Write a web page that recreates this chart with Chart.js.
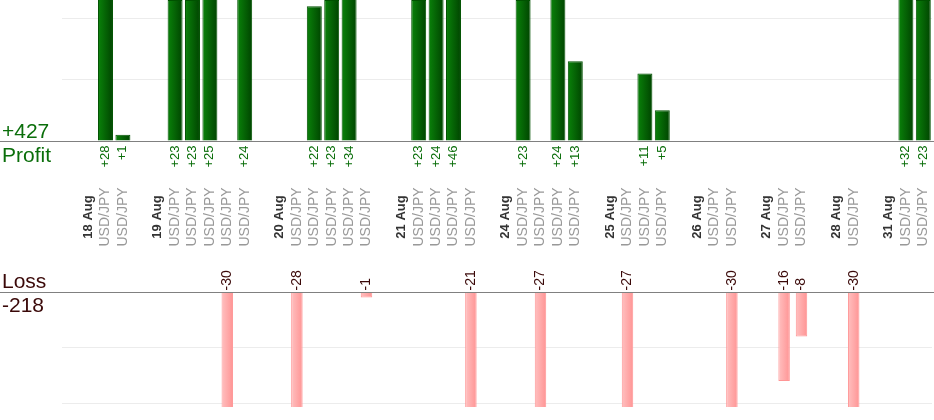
<!DOCTYPE html>
<html>
<head>
<meta charset="utf-8">
<script src="https://cdn.jsdelivr.net/npm/chart.js@4.4.1/dist/chart.umd.min.js"></script>
<style>
  html, body { margin: 0; padding: 0; background: #fff; }
  #wrap { position: relative; width: 934px; height: 420px; overflow: hidden; }
  #wrap canvas { position: absolute; left: 0; }
  #profitChart { top: 0; }
  #lossChart { top: 260px; }
</style>
</head>
<body>
<div id="wrap">
  <canvas id="profitChart" width="934" height="260"></canvas>
  <canvas id="lossChart" width="934" height="160"></canvas>
</div>
<script>
// Data (one slot per column, '' = spacer before each day)
const PAIR = 'USD/JPY';
const labels = [
  '', '18 Aug', PAIR, PAIR,
  '', '19 Aug', PAIR, PAIR, PAIR, PAIR, PAIR,
  '', '20 Aug', PAIR, PAIR, PAIR, PAIR, PAIR,
  '', '21 Aug', PAIR, PAIR, PAIR, PAIR,
  '', '24 Aug', PAIR, PAIR, PAIR, PAIR,
  '', '25 Aug', PAIR, PAIR, PAIR,
  '', '26 Aug', PAIR, PAIR,
  '', '27 Aug', PAIR, PAIR,
  '', '28 Aug', PAIR,
  '', '31 Aug', PAIR, PAIR,
];
const profit = [
  null, null, 28, 1,
  null, null, 23, 23, 25, null, 24,
  null, null, null, 22, 23, 34, null,
  null, null, 23, 24, 46, null,
  null, null, 23, null, 24, 13,
  null, null, null, 11, 5,
  null, null, null, null,
  null, null, null, null,
  null, null, null,
  null, null, 32, 23,
];
const loss = [
  null, null, null, null,
  null, null, null, null, null, -30, null,
  null, null, -28, null, null, null, -1,
  null, null, null, null, null, -21,
  null, null, null, -27, null, null,
  null, null, -27, null, null,
  null, null, null, -30,
  null, null, -16, -8,
  null, null, -30,
  null, null, null, null,
];
const profitGrid = [0, 10, 20];
const lossGrid = [-20, -10, 0];

const totalProfit = profit.reduce((s, v) => s + (v || 0), 0);
const totalLoss = loss.reduce((s, v) => s + (v || 0), 0);

const FONT = 'Arial, "Liberation Sans", sans-serif';
const GREEN = '#0a6e0a';
const MAROON = '#3a0808';
const PROFIT_BAR = 0.86;
const LOSS_BAR = 0.66;

// horizontal gradient per bar, positioned from the x scale
function barFill(from, to, pct) {
  return (c) => {
    if (c.type !== 'data') return to;
    const xs = c.chart.scales.x;
    if (!xs) return to;
    const cx = xs.getPixelForValue(c.dataIndex);
    const half = xs.width / labels.length * pct / 2;
    if (!isFinite(cx) || !isFinite(half) || half <= 0) return to;
    const g = c.chart.ctx.createLinearGradient(cx - half, 0, cx + half, 0);
    g.addColorStop(0, from);
    g.addColorStop(1, to);
    return g;
  };
}

function gridColor(c) {
  const v = c.tick ? c.tick.value : 0;
  return v !== 0 ? '#ececec' : 'rgba(0,0,0,0)';
}

function drawRotated(ctx, text, x, y, align) {
  ctx.save();
  ctx.translate(x, y);
  ctx.rotate(-Math.PI / 2);
  ctx.textAlign = align;
  ctx.fillText(text, 0, 0);
  ctx.restore();
}

function drawBaseline(chart) {
  const ctx = chart.ctx;
  const base = Math.round(chart.scales.y.getPixelForValue(0)) + 0.5;
  ctx.save();
  ctx.strokeStyle = '#808080';
  ctx.lineWidth = 1;
  ctx.beginPath();
  ctx.moveTo(0, base);
  ctx.lineTo(chart.width, base);
  ctx.stroke();
  ctx.restore();
  return base;
}

const profitLabels = {
  id: 'profitLabels',
  afterDraw(chart) {
    const { ctx, scales: { x } } = chart;
    const base = drawBaseline(chart);
    ctx.save();
    ctx.textBaseline = 'middle';

    ctx.fillStyle = GREEN;
    ctx.font = '13px ' + FONT;
    profit.forEach((v, i) => {
      if (v == null) return;
      drawRotated(ctx, '+' + v, x.getPixelForValue(i), base + 4, 'right');
    });

    labels.forEach((lab, i) => {
      if (!lab) return;
      if (lab === PAIR) {
        ctx.fillStyle = '#999';
        ctx.font = '14px ' + FONT;
      } else {
        ctx.fillStyle = '#333';
        ctx.font = 'bold 13px ' + FONT;
      }
      drawRotated(ctx, lab, x.getPixelForValue(i), 217, 'center');
    });

    ctx.textBaseline = 'alphabetic';
    ctx.textAlign = 'left';
    ctx.fillStyle = GREEN;
    ctx.font = '21px ' + FONT;
    ctx.fillText('+' + totalProfit, 2, 138);
    ctx.fillText('Profit', 2, 162);
    ctx.restore();
  },
};

const lossLabels = {
  id: 'lossLabels',
  afterDraw(chart) {
    const { ctx, scales: { x } } = chart;
    const base = drawBaseline(chart);
    ctx.save();
    ctx.textBaseline = 'middle';
    ctx.fillStyle = MAROON;
    ctx.font = '14px ' + FONT;
    loss.forEach((v, i) => {
      if (v == null) return;
      drawRotated(ctx, String(v), x.getPixelForValue(i), base - 2, 'left');
    });

    ctx.textBaseline = 'alphabetic';
    ctx.textAlign = 'left';
    ctx.font = '21px ' + FONT;
    ctx.fillText('Loss', 2, 28);
    ctx.fillText(String(totalLoss), 2, 52);
    ctx.restore();
  },
};

const common = {
  responsive: false,
  animation: false,
  events: [],
  plugins: { legend: { display: false }, tooltip: { enabled: false } },
};

const hiddenX = {
  ticks: { display: false },
  grid: { display: false, drawTicks: false },
  border: { display: false },
};

function yAxis(min, max, grid) {
  return {
    min,
    max,
    afterBuildTicks: (scale) => { scale.ticks = grid.map(value => ({ value })); },
    ticks: { display: false },
    border: { display: false },
    grid: { color: gridColor, drawTicks: false },
  };
}

new Chart(document.getElementById('profitChart'), {
  type: 'bar',
  data: {
    labels,
    datasets: [{
      data: profit,
      backgroundColor: barFill('#0a820a', '#004400', PROFIT_BAR),
      borderColor: '#005200',
      borderWidth: 1,
      barPercentage: PROFIT_BAR,
      categoryPercentage: 1,
    }],
  },
  options: {
    ...common,
    layout: { padding: { left: 62, right: 2, top: 0, bottom: 119 } },
    scales: { x: hiddenX, y: yAxis(0, 23, profitGrid) },
  },
  plugins: [profitLabels],
});

new Chart(document.getElementById('lossChart'), {
  type: 'bar',
  data: {
    labels,
    datasets: [{
      data: loss,
      backgroundColor: barFill('#ffc0c0', '#ff9494', LOSS_BAR),
      borderColor: '#ff9696',
      borderWidth: 1,
      barPercentage: LOSS_BAR,
      categoryPercentage: 1,
    }],
  },
  options: {
    ...common,
    layout: { padding: { left: 62, right: 2, top: 32, bottom: 13 } },
    scales: { x: hiddenX, y: yAxis(-20.7, 0, lossGrid) },
  },
  plugins: [lossLabels],
});
</script>
</body>
</html>
